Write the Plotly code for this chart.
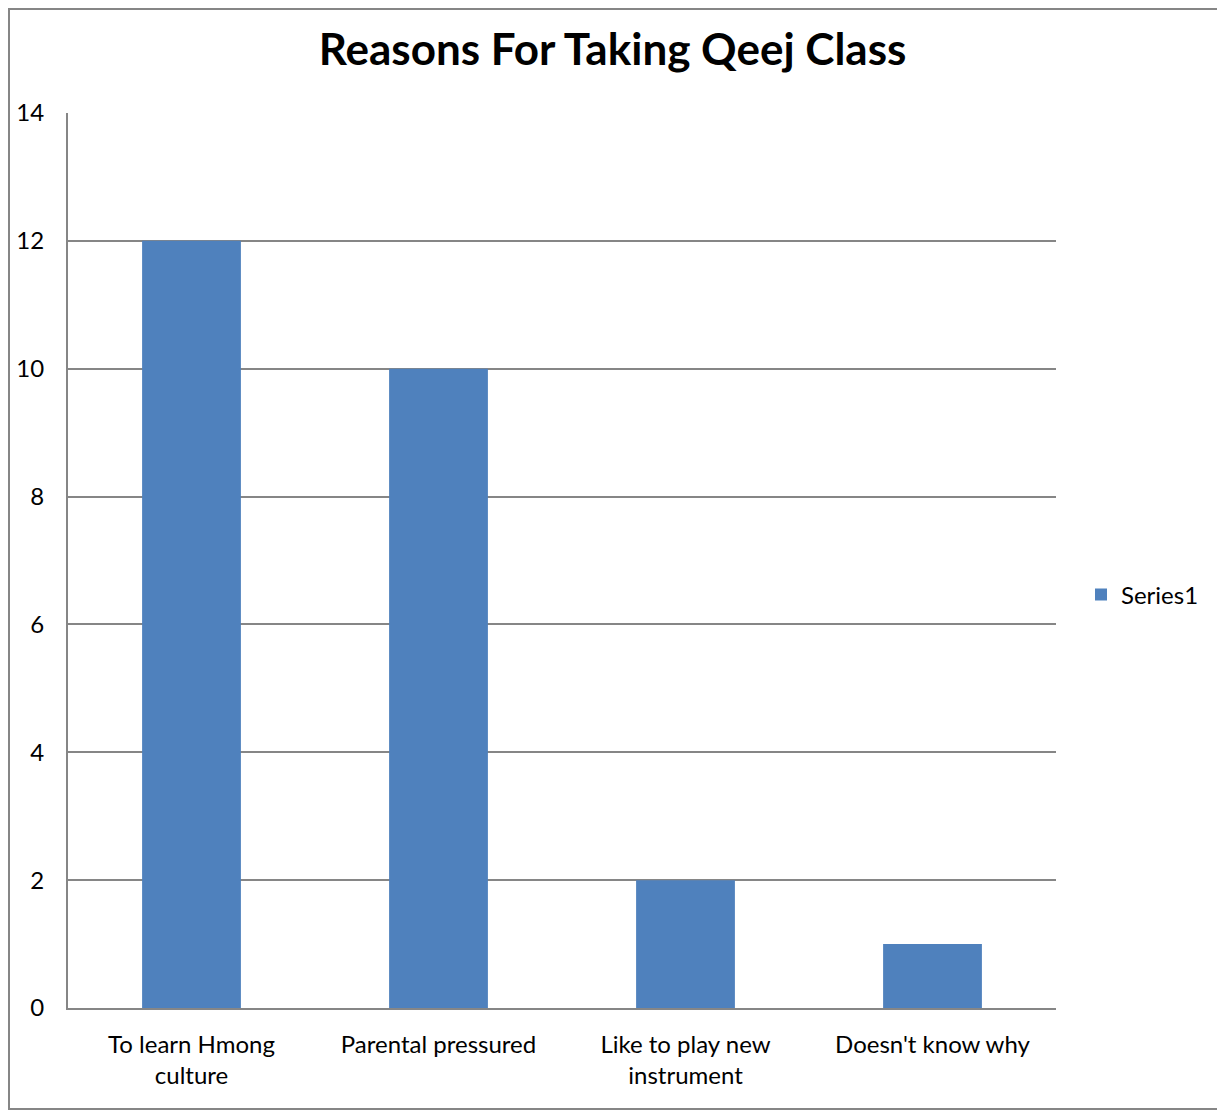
import plotly.graph_objects as go

categories = ["To learn Hmong<br>culture", "Parental pressured", "Like to play new<br>instrument", "Doesn't know why"]
values = [12, 10, 2, 1]
series_name = "Series1"
y_ticks = [0, 2, 4, 6, 8, 10, 12, 14]

# page body has an 8px offset; compensate so content lands where the reference has it
OFF = 8
W, H = 1225 - OFF, 1110 - OFF
ml, mr, mt, mb = 68 - OFF, 169, 113 - OFF, 102
pw, ph = W - ml - mr, H - mt - mb

font = "Lato, Calibri, 'Liberation Sans', sans-serif"

fig = go.Figure()
fig.add_trace(go.Bar(x=categories, y=values, name=series_name, marker=dict(color="#4F81BD", line=dict(width=0)),
                     showlegend=True))

fig.update_layout(
    width=W, height=H,
    margin=dict(l=ml, r=mr, t=mt, b=mb, autoexpand=False),
    paper_bgcolor="white", plot_bgcolor="white",
    font=dict(family=font, size=24, color="#000000"),
    title=dict(text="<b>Reasons For Taking Qeej Class</b>", x=(612.5 - OFF) / W, xanchor="center",
               y=1 - (50 - OFF) / H, yanchor="middle", font=dict(size=44, family=font, color="#000000")),
    bargap=0.6,
    showlegend=True,
    legend=dict(x=(1081 - 68) / pw, xanchor="left", y=(1008 - 595) / ph, yanchor="middle",
                font=dict(size=24), itemwidth=30, bgcolor="rgba(0,0,0,0)"),
    xaxis=dict(showline=True, linecolor="#868686", linewidth=2, ticks="", showgrid=False,
               tickfont=dict(size=24), ticklabelstandoff=14),
    yaxis=dict(range=[0, 14], tickvals=y_ticks, showline=True, linecolor="#868686", linewidth=2,
               showgrid=True, gridcolor="#868686", gridwidth=1.5, zeroline=False, ticks="",
               tickfont=dict(size=24), ticklabelstandoff=17),
    shapes=[dict(type="rect", xref="paper", yref="paper",
                 x0=-ml / pw + 1 / pw, x1=1 + (mr - 1) / pw,
                 y0=-mb / ph + 1 / ph, y1=1 + (mt - 1) / ph,
                 line=dict(color="#868686", width=2), fillcolor="rgba(0,0,0,0)", layer="above")],
)

fig.write_html("out.html")
